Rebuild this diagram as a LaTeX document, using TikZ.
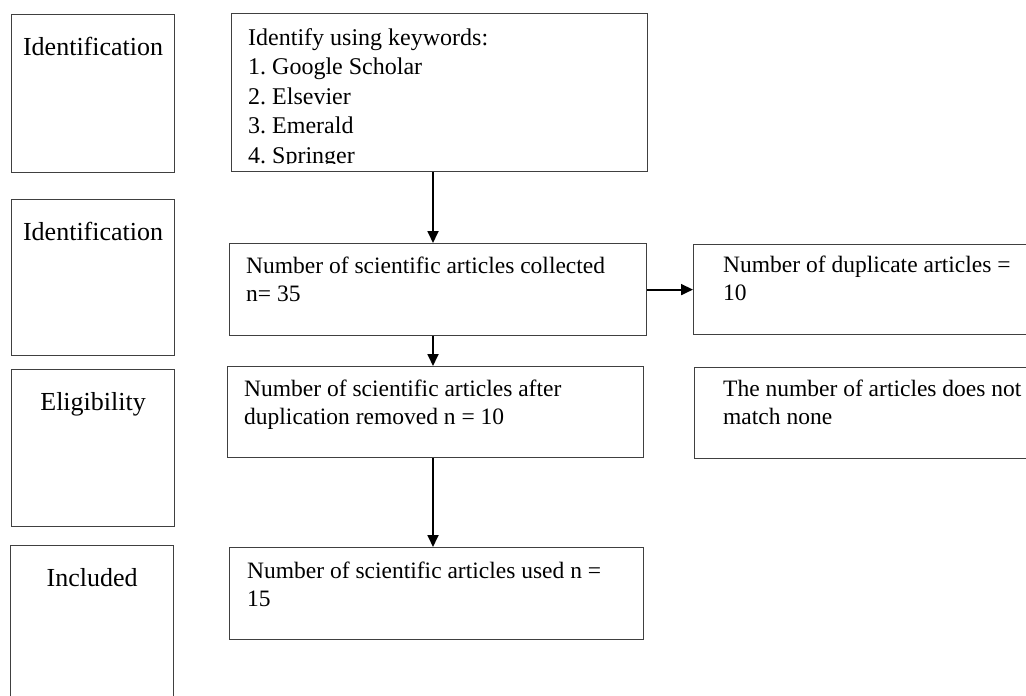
\documentclass[tikz,border=0pt]{standalone}
\usepackage{fontspec}
\setmainfont{Liberation Serif}
\usetikzlibrary{arrows.meta}
\frenchspacing

\begin{document}
\begin{tikzpicture}[x=1pt,y=-1pt,
    frame/.style={draw=black!75, line width=1.2pt, anchor=north west, inner sep=0pt},
    stagetext/.style={anchor=base, inner sep=0pt, font=\fontsize{26}{30}\selectfont},
    boxtext/.style={anchor=north west, align=left, inner sep=0pt, font=\fontsize{23.5}{28}\selectfont},
    flow/.style={-{Triangle[length=12pt,width=11pt]}, line width=1.8pt}]
    \useasboundingbox (0,0) rectangle (1026,696);
    \clip (0,0) rectangle (1026,696);
    % stage column
    \node[frame, minimum width=163pt, minimum height=158pt] at (11,14) (ident1) {};
    \node[frame, minimum width=163pt, minimum height=156pt] at (11,199) (ident2) {};
    \node[frame, minimum width=163pt, minimum height=157pt] at (11,369) (elig) {};
    \node[frame, minimum width=163pt, minimum height=180pt] at (10,545) (incl) {};
    \node[stagetext] at ([yshift=-41pt]ident1.north) (ident1_lbl) {Identification};
    \node[stagetext] at ([yshift=-41pt]ident2.north) (ident2_lbl) {Identification};
    \node[stagetext] at ([yshift=-41pt]elig.north) (elig_lbl) {Eligibility};
    \node[stagetext] at ([yshift=-41pt]incl.north) (incl_lbl) {Included};
    % flow boxes
    \node[frame, minimum width=416pt, minimum height=158pt] at (231,13) (search) {};
    \node[frame, minimum width=417pt, minimum height=92pt] at (229,243) (collected) {};
    \node[frame, minimum width=350pt, minimum height=90pt] at (693,244) (dup) {};
    \node[frame, minimum width=416pt, minimum height=91pt] at (227,366) (removed) {};
    \node[frame, minimum width=350pt, minimum height=91pt] at (694,367) (nomatch) {};
    \node[frame, minimum width=414pt, minimum height=92pt] at (229,547) (used) {};
    % search text runs past its frame and is cut off
    \begin{scope}
        \clip (231,13) rectangle (647,163);
        \node[boxtext, font=\fontsize{24}{29.5}\selectfont] at ([xshift=17pt,yshift=-15pt]search.north west) (search_txt)
            {Identify using keywords:\\1. Google Scholar\\2. Elsevier\\3. Emerald\\4. Springer};
    \end{scope}
    \node[boxtext] at ([xshift=17pt,yshift=-14pt]collected.north west) (collected_txt) {Number of scientific articles collected\\n= 35};
    \node[boxtext] at ([xshift=30pt,yshift=-12pt]dup.north west) (dup_txt) {Number of duplicate articles =\\10};
    \node[boxtext] at ([xshift=17pt,yshift=-14pt]removed.north west) (removed_txt) {Number of scientific articles after\\duplication removed n = 10};
    \node[boxtext] at ([xshift=29pt,yshift=-13pt]nomatch.north west) (nomatch_txt) {The number of articles does not\\match none};
    \node[boxtext] at ([xshift=18pt,yshift=-15pt]used.north west) (used_txt) {Number of scientific articles used n =\\15};
    % arrows
    \coordinate (spine) at (433,0);
    \draw[flow] (search.south -| spine) -- (collected.north -| spine);
    \draw[flow] (collected.south -| spine) -- (removed.north -| spine);
    \draw[flow] (removed.south -| spine) -- (used.north -| spine);
    \draw[flow] (collected.east) -- (dup.west);
\end{tikzpicture}
\end{document}
